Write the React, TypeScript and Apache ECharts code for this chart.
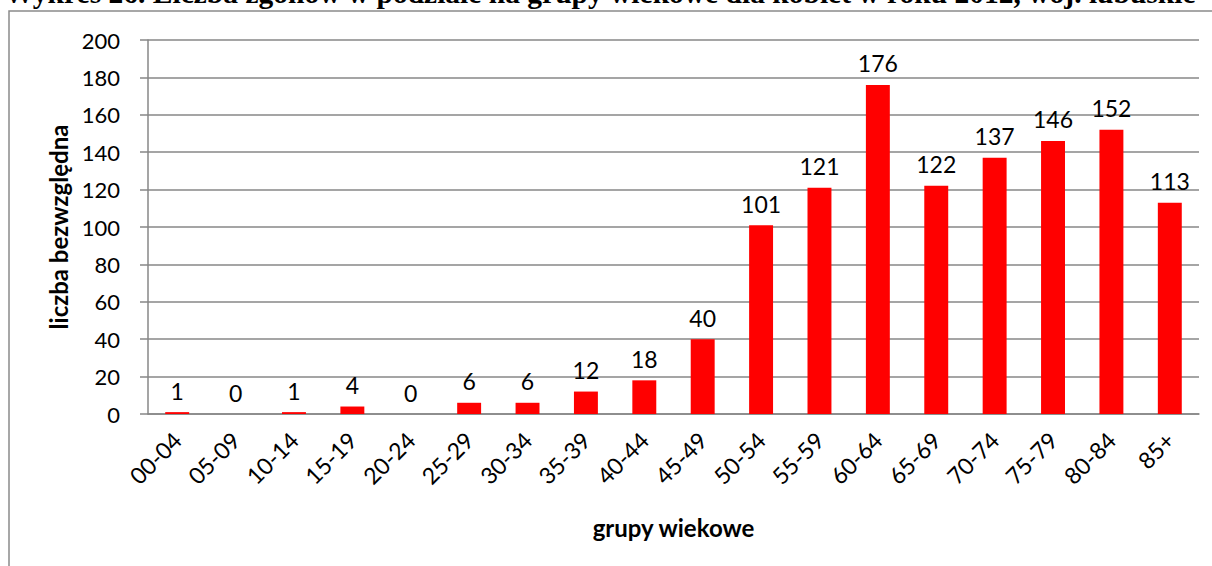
import React, { useEffect, useRef } from "react";
import * as echarts from "echarts";

const titleText = "Wykres 26. Liczba zgonów w podziale na grupy wiekowe dla kobiet w roku 2012, woj. lubuskie";
const categories = ["00-04", "05-09", "10-14", "15-19", "20-24", "25-29", "30-34", "35-39", "40-44", "45-49", "50-54", "55-59", "60-64", "65-69", "70-74", "75-79", "80-84", "85+"];
const values = [1, 0, 1, 4, 0, 6, 6, 12, 18, 40, 101, 121, 176, 122, 137, 146, 152, 113];
const yAxisName = "liczba bezwzględna";
const xAxisName = "grupy wiekowe";

const FONT = "Lato";
const GRID = "#878787";

export default function App() {
  const ref = useRef<HTMLDivElement>(null);
  useEffect(() => {
    if (!ref.current) return;
    const chart = echarts.init(ref.current, null, { renderer: "svg" });
    chart.setOption({
      animation: false,
      backgroundColor: "#ffffff",
      grid: { left: 148, right: 13, top: 40, bottom: 152, containLabel: false },
      graphic: [
        {
          type: "rect",
          shape: { x: 9, y: 11, width: 1230, height: 600 },
          style: { fill: "none", stroke: "#8a8a8a", lineWidth: 1.5 },
          silent: true,
        },
        {
          type: "text",
          x: 600,
          y: 8,
          style: {
            text: titleText,
            font: "bold 29.5px 'Liberation Serif'",
            fill: "#000",
            textAlign: "center",
            textVerticalAlign: "bottom",
          },
          silent: true,
        },
      ],
      xAxis: {
        type: "category",
        data: categories,
        name: xAxisName,
        nameLocation: "middle",
        nameGap: 101,
        nameTextStyle: { fontFamily: FONT, fontWeight: "bold", fontSize: 24, color: "#000" },
        axisLine: { show: true, lineStyle: { color: GRID, width: 1.5 } },
        axisTick: { show: false },
        axisLabel: {
          rotate: 45,
          interval: 0,
          margin: 22,
          fontFamily: FONT,
          fontSize: 23,
          color: "#000",
        },
      },
      yAxis: {
        type: "value",
        min: 0,
        max: 200,
        interval: 20,
        name: yAxisName,
        nameLocation: "middle",
        nameGap: 76,
        nameTextStyle: { fontFamily: FONT, fontWeight: "bold", fontSize: 24, color: "#000" },
        axisLine: { show: true, lineStyle: { color: GRID, width: 1.5 } },
        axisTick: { show: true, length: 8, lineStyle: { color: GRID, width: 1.5 } },
        splitLine: { show: true, lineStyle: { color: GRID, width: 1.5 } },
        axisLabel: { fontFamily: FONT, fontSize: 22, color: "#000", margin: 28 },
      },
      series: [
        {
          type: "bar",
          data: values,
          barWidth: "41%",
          itemStyle: { color: "#ff0000" },
          label: {
            show: true,
            position: "top",
            distance: 10,
            fontFamily: FONT,
            fontSize: 23,
            color: "#000",
          },
        },
      ],
    });
    return () => chart.dispose();
  }, []);
  return <div ref={ref} style={{ position: "fixed", left: 0, top: 0, width: 1212, height: 566 }} />;
}
